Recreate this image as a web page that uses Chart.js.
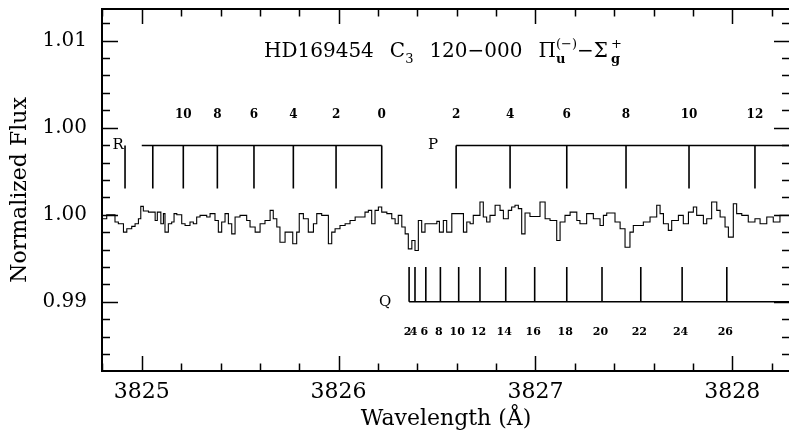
<!DOCTYPE html>
<html>
<head>
<meta charset="utf-8">
<script src="https://cdn.jsdelivr.net/npm/chart.js@4.4.1/dist/chart.umd.min.js"></script>
<style>
html,body{margin:0;padding:0;background:#fff;overflow:hidden}
#wrap{width:791px;height:438px;position:relative}
</style>
</head>
<body>
<div id="wrap"><canvas id="c"></canvas></div>
<script>
// ---------- axis ticks ----------
const yTickValues = [0.995, 1.000, 1.005, 1.010];
const yTickLabels = ['0.99', '1.00', '1.00', '1.01'];
const xTickValues = [3825, 3826, 3827, 3828];
const xTickLabels = ['3825', '3826', '3827', '3828'];

// ---------- spectrum (bin left edges in Å, normalized flux) ----------
const specWave = [
3824.797,3824.822,3824.864,3824.881,3824.907,3824.924,3824.949,3824.966,3824.983,3824.995,
3825.008,3825.034,3825.068,3825.079,3825.097,3825.110,3825.118,3825.135,3825.152,3825.164,
3825.178,3825.203,3825.220,3825.245,3825.262,3825.279,3825.296,3825.330,3825.347,3825.372,
3825.389,3825.406,3825.423,3825.440,3825.457,3825.474,3825.499,3825.533,3825.550,3825.576,
3825.601,3825.626,3825.652,3825.668,3825.686,3825.702,3825.728,3825.767,3825.787,3825.800,
3825.821,3825.846,3825.872,3825.889,3825.914,3825.948,3825.965,3825.982,3826.007,3826.033,
3826.058,3826.084,3826.134,3826.151,3826.168,3826.185,3826.202,3826.219,3826.245,3826.270,
3826.287,3826.303,3826.321,3826.338,3826.354,3826.372,3826.388,3826.405,3826.422,3826.439,
3826.464,3826.499,3826.512,3826.532,3826.549,3826.575,3826.634,3826.651,3826.668,3826.684,
3826.718,3826.735,3826.752,3826.769,3826.795,3826.820,3826.837,3826.862,3826.879,3826.896,
3826.913,3826.930,3826.947,3826.972,3827.023,3827.049,3827.074,3827.108,3827.125,3827.150,
3827.176,3827.210,3827.226,3827.260,3827.294,3827.328,3827.345,3827.362,3827.404,3827.430,
3827.455,3827.480,3827.497,3827.548,3827.582,3827.616,3827.633,3827.650,3827.675,3827.692,
3827.726,3827.751,3827.777,3827.802,3827.819,3827.853,3827.870,3827.895,3827.921,3827.938,
3827.963,3827.980,3828.005,3828.022,3828.048,3828.081,3828.115,3828.141,3828.175,3828.208,
3828.242,3828.293
];
const specFlux = [
0.99977,1.00000,0.99958,0.99948,0.99900,0.99919,0.99933,0.99948,0.99977,1.00048,
1.00021,1.00015,0.99967,1.00015,0.99948,1.00006,0.99900,0.99948,0.99958,1.00006,
1.00000,0.99948,0.99938,0.99958,0.99948,0.99987,0.99996,0.99987,1.00006,0.99967,
0.99900,0.99958,1.00006,0.99948,0.99890,0.99987,0.99996,0.99967,0.99929,0.99900,
0.99948,0.99967,1.00025,0.99977,0.99929,0.99842,0.99900,0.99833,0.99900,1.00006,
0.99977,0.99900,0.99948,1.00006,0.99996,0.99833,0.99900,0.99919,0.99938,0.99948,
0.99967,0.99987,1.00015,1.00025,0.99948,1.00025,1.00044,1.00015,1.00006,0.99977,
0.99948,0.99996,0.99929,0.99890,0.99804,0.99852,0.99794,0.99967,0.99900,0.99948,
0.99948,0.99962,0.99900,0.99967,0.99900,1.00006,0.99900,0.99958,0.99948,0.99996,
1.00073,0.99987,0.99958,0.99996,1.00054,1.00025,0.99977,1.00025,1.00044,1.00054,
1.00035,0.99890,1.00010,0.99990,1.00073,0.99977,0.99967,0.99852,0.99958,0.99996,
1.00015,0.99967,0.99948,1.00006,0.99977,0.99938,0.99996,1.00010,0.99958,0.99919,
0.99813,0.99900,0.99938,0.99958,0.99987,1.00054,1.00006,0.99948,0.99910,0.99967,
0.99996,0.99948,1.00015,1.00044,0.99996,0.99948,0.99977,1.00073,1.00025,0.99987,
0.99929,0.99871,1.00063,1.00006,0.99996,0.99958,0.99977,0.99948,0.99987,0.99958,
0.99996,0.99996
];

// ---------- C3 line identifications ----------
const rBranchWave = [3826.219,3825.987,3825.770,3825.570,3825.384,3825.211,3825.056,3824.915];
const rBranchLabels = ['0','2','4','6','8','10','',''];
const pBranchWave = [3826.597,3826.871,3827.159,3827.460,3827.780,3828.115];
const pBranchLabels = ['2','4','6','8','10','12'];
const qBranchWave = [3826.358,3826.388,3826.443,3826.517,3826.610,3826.718,3826.849,3826.996,3827.159,3827.338,3827.535,3827.745,3827.972];
const qBranchLabels = ['2','4','6','8','10','12','14','16','18','20','22','24','26'];

// marker levels (flux units)
const RP_TOP = 1.00398, RP_BOTTOM = 1.00151, RP_LABEL = 1.00571;
const Q_BASE = 0.995, Q_TOP = 0.99699, Q_LABEL = 0.99325;
const R_LINE_START = 3825.0;
const X_MIN = 3824.798, X_MAX = 3828.293, Y_MIN = 0.99102, Y_MAX = 1.01182;
const branchNames = [{t:'R', x:3824.880, y:RP_TOP}, {t:'P', x:3826.480, y:RP_TOP}, {t:'Q', x:3826.236, y:Q_BASE}];

function pts(xs, ys){ return xs.map((x,i)=>({x:x, y:ys[i]})); }
function verticals(waves, y0, y1){
  const d=[];
  waves.forEach(w=>{ d.push({x:w,y:y0},{x:w,y:y1},{x:w,y:null}); });
  return d;
}

const serif = '"DejaVu Serif", serif';
Chart.defaults.font.family = serif;
Chart.defaults.color = '#000';

const lineStyle = {borderColor:'#000', borderWidth:1.6, pointRadius:0, fill:false, tension:0, spanGaps:false};

const frameTicks = {
  id:'frameTicks',
  afterDraw(chart){
    const {ctx, chartArea:a, scales:{x, y}} = chart;
    ctx.save();
    ctx.strokeStyle = '#000';
    ctx.lineWidth = 1.5;
    ctx.beginPath();
    for (let i=0;i<=18;i++){
      const v = 3824.8 + i*0.2;
      if (v < X_MIN || v > X_MAX) continue;
      const major = xTickValues.some(t=>Math.abs(t-v)<1e-6);
      const L = major ? 15 : 7.5;
      const px = Math.round(x.getPixelForValue(v))+0.5;
      ctx.moveTo(px, a.bottom); ctx.lineTo(px, a.bottom-L);
      ctx.moveTo(px, a.top); ctx.lineTo(px, a.top+L);
    }
    for (let i=0;i<=20;i++){
      const v = 0.992 + i*0.001;
      if (v < Y_MIN || v > Y_MAX) continue;
      const major = yTickValues.some(t=>Math.abs(t-v)<1e-7);
      const L = major ? 16 : 8;
      const py = Math.round(y.getPixelForValue(v))+0.5;
      ctx.moveTo(a.left, py); ctx.lineTo(a.left+L, py);
      ctx.moveTo(a.right, py); ctx.lineTo(a.right-L, py);
    }
    ctx.stroke();
    ctx.lineWidth = 2;
    ctx.strokeRect(a.left, a.top, a.right-a.left, a.bottom-a.top);

    // branch numbers
    ctx.fillStyle = '#000';
    ctx.font = 'bold 12px ' + serif;
    ctx.textAlign = 'center';
    ctx.textBaseline = 'middle';
    rBranchWave.forEach((w,i)=>{ if (rBranchLabels[i]) ctx.fillText(rBranchLabels[i], x.getPixelForValue(w), y.getPixelForValue(RP_LABEL)); });
    pBranchWave.forEach((w,i)=>{ ctx.fillText(pBranchLabels[i], x.getPixelForValue(w), y.getPixelForValue(RP_LABEL)); });
    ctx.font = 'bold 11px ' + serif;
    qBranchWave.forEach((w,i)=>{ ctx.fillText(qBranchLabels[i], x.getPixelForValue(w) - 1.5, y.getPixelForValue(Q_LABEL)); });
    ctx.font = '15px ' + serif;
    branchNames.forEach(b=>ctx.fillText(b.t, x.getPixelForValue(b.x), y.getPixelForValue(b.y)));

    // title
    const big = '20px ' + serif, small = '13px ' + serif, smallB = 'bold 13px ' + serif;
    const base = 57;
    let cx = 264;
    ctx.textAlign = 'left';
    ctx.textBaseline = 'alphabetic';
    function put(t, f, dy){ ctx.font = f; ctx.fillText(t, cx, base+dy); const w = ctx.measureText(t).width; cx += w; return w; }
    put('HD169454', big, 0); cx += 16;
    put('C', big, 0); put('3', small, 6); cx += 16;
    put('120\u2212000', big, 0); cx += 16;
    put('\u03A0', big, 0);
    let sx = cx; let w1 = put('(\u2212)', small, -9); cx = sx; let w2 = put('u', smallB, 6); cx = sx + Math.max(w1,w2);
    put('\u2212\u03A3', big, 0);
    sx = cx + 3; cx = sx; w1 = put('+', small, -9); cx = sx; w2 = put('g', smallB, 6); cx = sx + Math.max(w1,w2);
    ctx.restore();
  }
};

new Chart(document.getElementById('c'), {
  type:'line',
  data:{
    datasets:[
      Object.assign({label:'HD169454', data:pts(specWave, specFlux), stepped:true}, lineStyle, {borderWidth:1.1}),
      Object.assign({label:'R', data:verticals(rBranchWave, RP_BOTTOM, RP_TOP).concat([{x:R_LINE_START,y:RP_TOP},{x:rBranchWave[0],y:RP_TOP}])}, lineStyle),
      Object.assign({label:'P', data:verticals(pBranchWave, RP_BOTTOM, RP_TOP).concat([{x:pBranchWave[0],y:RP_TOP},{x:X_MAX,y:RP_TOP}])}, lineStyle),
      Object.assign({label:'Q', data:verticals(qBranchWave, Q_TOP, Q_BASE).concat([{x:qBranchWave[0],y:Q_BASE},{x:X_MAX,y:Q_BASE}])}, lineStyle)
    ]
  },
  options:{
    responsive:true, maintainAspectRatio:false, animation:false, devicePixelRatio:1,
    layout:{padding:{top:9, right:1, left:0, bottom:0}},
    plugins:{legend:{display:false}, tooltip:{enabled:false}},
    scales:{
      x:{type:'linear', min:X_MIN, max:X_MAX,
        grid:{display:false, drawTicks:false}, border:{display:false},
        afterBuildTicks:s=>{ s.ticks = xTickValues.map(v=>({value:v})); },
        afterFit:s=>{ s.height = 67; s.paddingLeft = 0; s.paddingRight = 0; },
        ticks:{font:{size:22}, padding:8, maxRotation:0, autoSkip:false,
          callback:(v)=>{ const i = xTickValues.findIndex(t=>Math.abs(t-v)<1e-6); return i>=0 ? xTickLabels[i] : ''; }},
        title:{display:true, text:'Wavelength (\u00C5)', font:{size:22}, padding:{top:0,bottom:6}}
      },
      y:{type:'linear', min:Y_MIN, max:Y_MAX,
        grid:{display:false, drawTicks:false}, border:{display:false},
        afterBuildTicks:s=>{ s.ticks = yTickValues.map(v=>({value:v})); },
        afterFit:s=>{ s.width = 102; s.paddingTop = 0; s.paddingBottom = 0; },
        ticks:{font:{size:20}, padding:15,
          callback:(v)=>{ const i = yTickValues.findIndex(t=>Math.abs(t-v)<1e-7); return i>=0 ? yTickLabels[i] : ''; }},
        title:{display:true, text:'Normalized Flux', font:{size:22}, padding:{top:7,bottom:0}}
      }
    }
  },
  plugins:[frameTicks]
});
</script>
</body>
</html>
